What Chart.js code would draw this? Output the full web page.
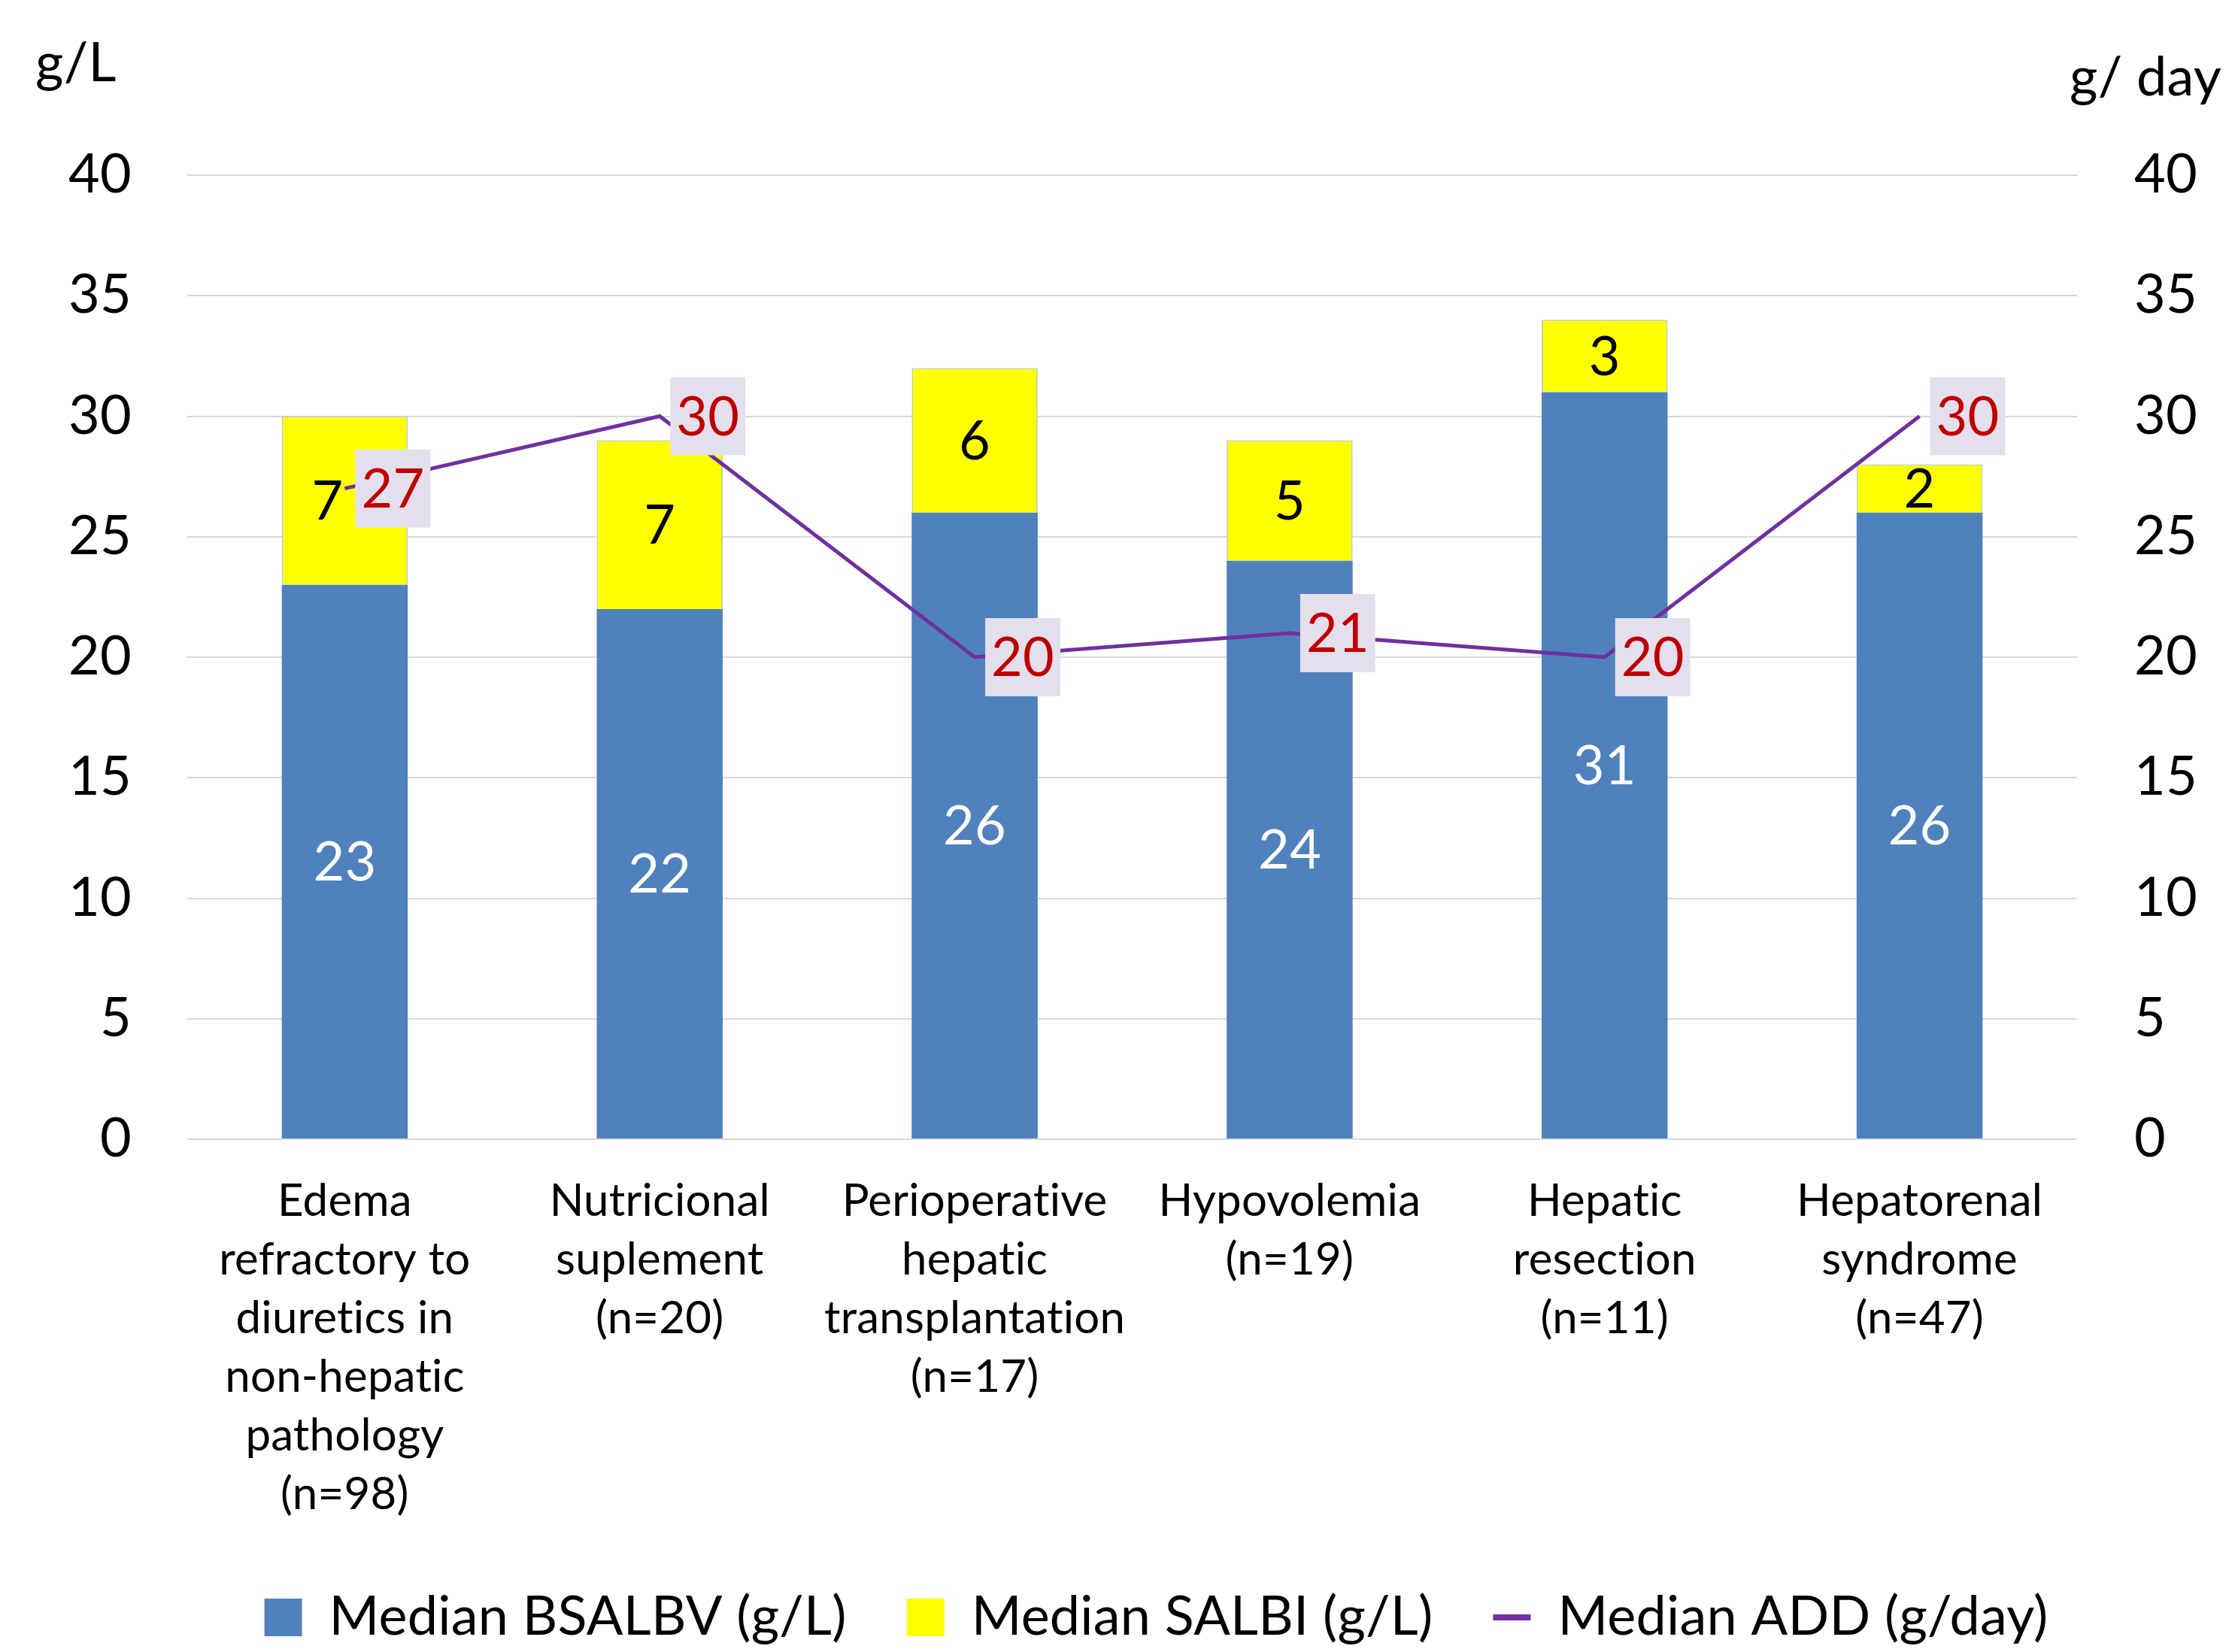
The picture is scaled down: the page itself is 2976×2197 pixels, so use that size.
<!DOCTYPE html>
<html>
<head>
<meta charset="utf-8">
<script src="https://cdn.jsdelivr.net/npm/chart.js@4.4.1/dist/chart.umd.min.js"></script>
<style>
  html, body { margin: 0; padding: 0; background: #fff; }
  #wrap { width: 2976px; height: 2197px; }
  canvas { font-variant-ligatures: none; }
</style>
</head>
<body>
<div id="wrap"><canvas id="chart"></canvas></div>
<script>
const categories = [
  ["Edema", "refractory to", "diuretics in", "non-hepatic", "pathology", "(n=98)"],
  ["Nutricional", "suplement", "(n=20)"],
  ["Perioperative", "hepatic", "transplantation", "(n=17)"],
  ["Hypovolemia", "(n=19)"],
  ["Hepatic", "resection", "(n=11)"],
  ["Hepatorenal", "syndrome", "(n=47)"]
];
const medianBsalbv = [23, 22, 26, 24, 31, 26];
const medianSalbi = [7, 7, 6, 5, 3, 2];
const medianAdd = [27, 30, 20, 21, 20, 30];
const axisMin = 0;
const axisMax = 40;
const axisStep = 5;

const FONT = "Lato";
Chart.defaults.font.family = FONT;
Chart.defaults.color = "#000";

const LABEL_PAD_X = 8;
const LABEL_BOX_H = 104;
const LABEL_OFFSET = 14;

// where the boxed label of a line point starts (left edge)
function lineLabelLeft(chart, i) {
  const lineIdx = chart.data.datasets.findIndex(d => d.type === "line");
  if (lineIdx < 0) return null;
  const el = chart.getDatasetMeta(lineIdx).data[i];
  return el ? { x: el.x + LABEL_OFFSET, y: el.y } : null;
}

// Lato joins "ti" by default; a hair of letter spacing keeps glyphs separate
const plainText = {
  id: "plainText",
  beforeDraw(chart) {
    chart.ctx.letterSpacing = "0.2px";
    chart.ctx.textRendering = "optimizeSpeed";
  }
};

// value labels: centred in each bar segment, boxed to the right of line points
const valueLabels = {
  id: "valueLabels",
  afterDatasetDraw(chart, args) {
    const ds = chart.data.datasets[args.index];
    const ctx = chart.ctx;
    ctx.save();
    ctx.font = "72px " + FONT;
    ctx.textBaseline = "middle";
    args.meta.data.forEach((el, i) => {
      const v = String(ds.data[i]);
      const tw = ctx.measureText(v).width;
      if (ds.type === "line") {
        const w = tw + LABEL_PAD_X * 2;
        const x0 = el.x + LABEL_OFFSET;
        ctx.fillStyle = "#E4DFEC";
        ctx.fillRect(x0, el.y - LABEL_BOX_H / 2, w, LABEL_BOX_H);
        ctx.fillStyle = "#C00000";
        ctx.textAlign = "left";
        ctx.fillText(v, x0 + LABEL_PAD_X, el.y + 2);
      } else {
        const p = el.getProps(["x", "y", "base"], true);
        const cy = (p.y + p.base) / 2;
        let cx = p.x;
        // keep the segment value clear of a line label sitting on top of it
        const box = lineLabelLeft(chart, i);
        if (box && Math.abs(box.y - cy) < LABEL_BOX_H / 2 + 30 && cx + tw / 2 > box.x) {
          cx = box.x - 16 - tw / 2;
        }
        ctx.fillStyle = ds.labelColor;
        ctx.textAlign = "center";
        ctx.fillText(v, cx, cy + 2);
      }
    });
    ctx.restore();
  }
};

// unit captions sitting above each value axis
const unitCaptions = {
  id: "unitCaptions",
  afterDraw(chart) {
    const ctx = chart.ctx;
    const { y1 } = chart.scales;
    ctx.save();
    ctx.font = "72px " + FONT;
    ctx.fillStyle = "#000";
    ctx.textBaseline = "middle";
    ctx.textAlign = "left";
    ctx.fillText("g/L", 47, 85);
    ctx.fillText("g/ day", y1.left - 10, 104);
    ctx.restore();
  }
};

new Chart(document.getElementById("chart"), {
  data: {
    labels: categories,
    datasets: [
      {
        type: "bar",
        label: "Median BSALBV (g/L)",
        data: medianBsalbv,
        backgroundColor: "#4F81BD",
        borderWidth: 0,
        labelColor: "#fff",
        stack: "s",
        yAxisID: "y",
        order: 1
      },
      {
        type: "bar",
        label: "Median SALBI (g/L)",
        data: medianSalbi,
        backgroundColor: "#FFFF00",
        borderColor: "#C3D69B",
        borderWidth: 2,
        labelColor: "#000",
        stack: "s",
        yAxisID: "y",
        order: 1
      },
      {
        type: "line",
        label: "Median ADD (g/day)",
        data: medianAdd,
        borderColor: "#7030A0",
        backgroundColor: "#7030A0",
        borderWidth: 5,
        pointRadius: 0,
        tension: 0,
        yAxisID: "y1",
        order: 0
      }
    ]
  },
  options: {
    responsive: true,
    maintainAspectRatio: false,
    animation: false,
    categoryPercentage: 0.4,
    barPercentage: 1.0,
    layout: { padding: { top: 233, left: 88, right: 0, bottom: 0 } },
    plugins: {
      tooltip: { enabled: false },
      legend: {
        position: "bottom",
        labels: {
          font: { size: 72 },
          color: "#000",
          usePointStyle: true,
          boxHeight: 50,
          pointStyleWidth: 50,
          padding: 80,
          sort: (a, b) => a.datasetIndex - b.datasetIndex,
          generateLabels(chart) {
            const items = Chart.defaults.plugins.legend.labels.generateLabels(chart);
            items.forEach(it => {
              const ds = chart.data.datasets[it.datasetIndex];
              if (ds.type === "line") {
                it.pointStyle = "line";
                it.lineWidth = 8;
                it.strokeStyle = ds.borderColor;
              } else {
                it.pointStyle = "rect";
                it.lineWidth = 0;
              }
            });
            return items;
          }
        }
      }
    },
    scales: {
      x: {
        stacked: true,
        grid: { display: false },
        border: { display: false },
        ticks: {
          autoSkip: false,
          maxRotation: 0,
          padding: 36,
          font: { size: 60, lineHeight: "78px" },
          color: "#000"
        },
        afterFit(scale) { scale.height = 520; }
      },
      y: {
        position: "left",
        stacked: true,
        min: axisMin,
        max: axisMax,
        ticks: { stepSize: axisStep, padding: 74, font: { size: 72 }, color: "#000" },
        grid: { color: "#D9D9D9", lineWidth: 2, drawTicks: false },
        border: { display: false },
        afterFit(scale) { scale.width = 161; }
      },
      y1: {
        position: "right",
        min: axisMin,
        max: axisMax,
        ticks: { stepSize: axisStep, padding: 76, font: { size: 72 }, color: "#000" },
        grid: { drawOnChartArea: false, drawTicks: false },
        border: { display: false },
        afterFit(scale) { scale.width = 214; }
      }
    }
  },
  plugins: [plainText, valueLabels, unitCaptions]
});
</script>
</body>
</html>
